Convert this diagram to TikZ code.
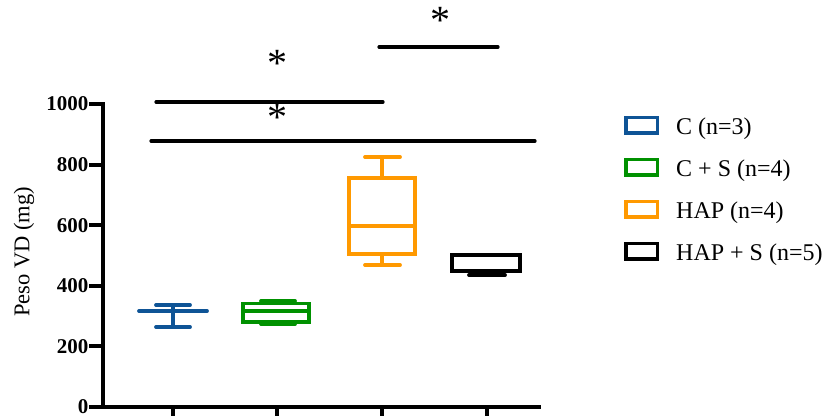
\documentclass[tikz,border=0pt]{standalone}
\usepackage{fontspec}
\setmainfont{Liberation Serif}
\definecolor{cblue}{RGB}{14,84,150}
\definecolor{cgreen}{RGB}{0,145,0}
\definecolor{corange}{RGB}{255,153,0}
\begin{document}
\begin{tikzpicture}[x=1pt,y=-1pt,
  axis/.style={line width=4pt},
  boxline/.style={line width=3.8pt},
  capline/.style={line width=3.8pt, line cap=round},
  sigbar/.style={line width=3.2pt, line cap=round},
  ticklab/.style={font=\fontsize{21}{25}\selectfont\bfseries, anchor=east, inner sep=0pt},
  leglab/.style={font=\fontsize{24}{28}\selectfont, anchor=base west, inner sep=0pt},
  legbox/.style={draw, line width=3.5pt, minimum width=31.5pt, minimum height=15.5pt, inner sep=0pt},
  star/.style={font=\fontsize{40}{44}\selectfont, inner sep=0pt, anchor=center}]
\useasboundingbox (0,0) rectangle (827,415);
% axes
\coordinate (origin) at (103,407);
\coordinate (ytop) at (103,102);
\coordinate (xend) at (541,407);
\draw[axis] (ytop) -- (origin) -- (xend);
\foreach \v in {0,200,400,600,800,1000}{
  \pgfmathsetmacro\yy{407-0.303*\v}
  \coordinate (yt\v) at (103,\yy);
  \coordinate (ytl\v) at (89,\yy);
  \draw[axis] (ytl\v) -- (yt\v);
  \node[ticklab] (yl\v) at (88.5,\yy) {\v};
}
\foreach \xx in {173,277,382,487}{
  \coordinate (xt\xx) at (\xx,407);
  \coordinate (xb\xx) at (\xx,416);
  \draw[axis] (xt\xx) -- (xb\xx);
}
\node[font=\fontsize{22.5}{26}\selectfont, rotate=90, inner sep=0pt] (ylabel) at (24,252) {Peso VD (mg)};
% C (blue)
\draw[cblue,capline] (139,311) -- (207,311);
\draw[cblue,boxline] (173,305) -- (173,327);
\draw[cblue,capline] (156,305) -- (190,305);
\draw[cblue,capline] (156,327) -- (190,327);
% C + S (green)
\draw[cgreen,boxline] (243,303.5) rectangle (309,322);
\draw[cgreen,boxline] (243,310.7) -- (309,310.7);
\draw[cgreen,boxline] (277,301) -- (277,303.5);
\draw[cgreen,boxline] (277,322) -- (277,324);
\draw[cgreen,capline] (261,301) -- (295,301);
\draw[cgreen,capline] (261,324) -- (295,324);
% HAP (orange)
\draw[corange,boxline] (349,178) rectangle (415,254);
\draw[corange,boxline] (349,226) -- (415,226);
\draw[corange,boxline] (382,157) -- (382,178);
\draw[corange,boxline] (382,254) -- (382,265);
\draw[corange,capline] (365,157) -- (400,157);
\draw[corange,capline] (365,265) -- (400,265);
% HAP + S (black)
\draw[black,boxline] (452,255) rectangle (520,271);
\draw[black,boxline] (486,271) -- (486,275);
\draw[black,capline] (469,275) -- (505,275);
% significance bars
\coordinate (s1a) at (379,47);  \coordinate (s1b) at (498,47);
\coordinate (s2a) at (156,102); \coordinate (s2b) at (383,102);
\coordinate (s3a) at (151,141); \coordinate (s3b) at (535,141);
\draw[sigbar] (s1a) -- (s1b);
\draw[sigbar] (s2a) -- (s2b);
\draw[sigbar] (s3a) -- (s3b);
\node[star] (st1) at (440.5,20) {*};
\node[star] (st2) at (277.5,63.5) {*};
\node[star] (st3) at (277.5,117) {*};
% legend
\node[legbox, cblue] (lb1) at (641.5,125) {};
\node[legbox, cgreen] (lb2) at (641.5,167) {};
\node[legbox, corange] (lb3) at (641.5,209) {};
\node[legbox, black] (lb4) at (641.5,251) {};
\node[leglab] (lt1) at (676,134.5) {C (n=3)};
\node[leglab] (lt2) at (676,176.5) {C + S (n=4)};
\node[leglab] (lt3) at (676,218.5) {HAP (n=4)};
\node[leglab] (lt4) at (676,260.5) {HAP + S (n=5)};
\end{tikzpicture}
\end{document}
